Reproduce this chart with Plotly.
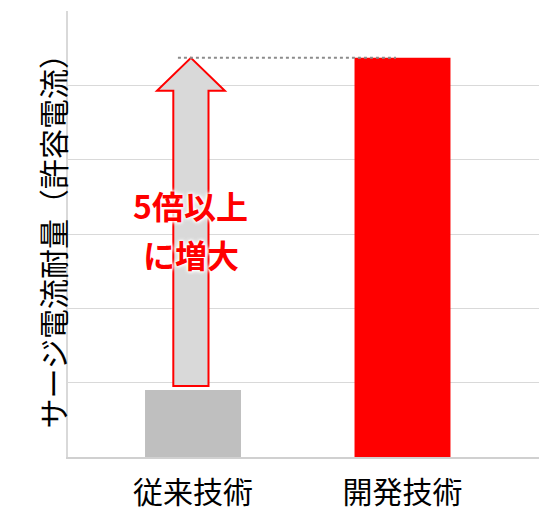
import plotly.graph_objects as go

categories = ["従来技術", "開発技術"]
values = [0.9, 5.37]
bar_colors = ["#bfbfbf", "#ff0000"]
y_title = "サージ電流耐量（許容電流）"
note_lines = ["5倍以上", "に増大"]
y_max = 6
y_ticks = [0, 1, 2, 3, 4, 5, 6]

FONT = "Noto Sans CJK JP"
W, H = 539, 512
L, R, T, B = 68, 0, 11, 55

x_pos = list(range(len(categories)))
fig = go.Figure()
fig.add_trace(go.Bar(
    x=x_pos, y=values, width=0.458,
    marker=dict(color=bar_colors, line=dict(width=0)),
    hoverinfo="skip",
))

# arrow from the lower bar up to the higher bar level
x0 = x_pos[0] - 0.01
shaft_hw = 0.084
head_hw = 0.162
head_h = 0.444
base = values[0] + 0.055
tip = values[1]
neck = tip - head_h
path = (f"M {x0-shaft_hw},{base} L {x0-shaft_hw},{neck} L {x0-head_hw},{neck} "
        f"L {x0},{tip} L {x0+head_hw},{neck} L {x0+shaft_hw},{neck} "
        f"L {x0+shaft_hw},{base} Z")
fig.add_shape(type="path", path=path, xref="x", yref="y",
              fillcolor="#d9d9d9", line=dict(color="#ff0000", width=2), layer="above")

# dotted reference line at the developed-technology level
fig.add_shape(type="line", xref="x", yref="y",
              x0=x_pos[0] - 0.072, x1=x_pos[1] - 0.031, y0=values[1], y1=values[1],
              line=dict(color="#8c8c8c", width=2, dash="dot"), layer="above")

halo = "0 0 3px white, 0 0 3px white, 0 0 5px white, 0 0 5px white"
for txt, yv in zip(note_lines, [3.39, 2.73]):
    fig.add_annotation(
        x=x_pos[0] - 0.01, y=yv, xref="x", yref="y",
        text=txt, showarrow=False,
        font=dict(family=FONT, size=32, color="#ff0000", weight="bold", shadow=halo),
    )

# rotated y-axis title
fig.add_annotation(
    x=(27.5 - L) / (W - L - R), y=0.5, xref="paper", yref="paper",
    text=y_title, textangle=-90, showarrow=False,
    font=dict(family=FONT, size=30, color="#000000"),
)

x_lo = -(193 - L) / 209.5
x_hi = (W - R - 193) / 209.5
fig.update_layout(
    width=W, height=H,
    margin=dict(l=L, r=R, t=T, b=B, pad=0, autoexpand=False),
    paper_bgcolor="white", plot_bgcolor="white",
    showlegend=False,
    xaxis=dict(
        range=[x_lo, x_hi], tickvals=x_pos, ticktext=categories,
        tickfont=dict(family=FONT, size=30, color="#000000"),
        showgrid=False, zeroline=False, ticks="",
        showline=True, linecolor="#d0d0d0", linewidth=2,
        ticklabelstandoff=8, automargin=False,
    ),
    yaxis=dict(
        range=[0, y_max], tickvals=y_ticks, showticklabels=False,
        showgrid=True, gridcolor="#d9d9d9", gridwidth=1,
        zeroline=False, ticks="", automargin=False,
        showline=True, linecolor="#d9d9d9", linewidth=2,
    ),
)

fig.write_html(
    "out.html",
    config={"displayModeBar": False},
    post_script="document.documentElement.style.overflow='hidden';"
                "document.body.style.overflow='hidden';document.body.style.margin='0';",
)
